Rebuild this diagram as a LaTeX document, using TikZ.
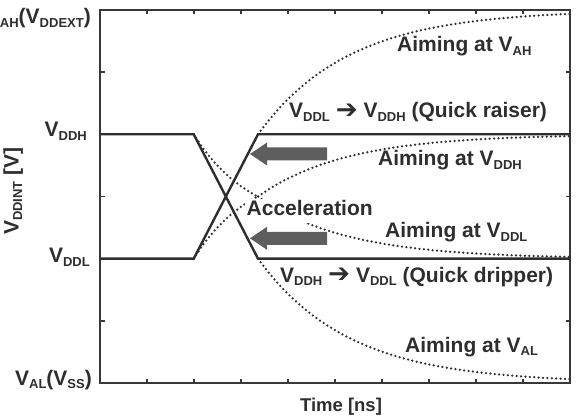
\documentclass[tikz,border=0pt]{standalone}
\usepackage{fontspec}
\setmainfont{Liberation Sans}
\newfontfamily\dejavu{DejaVu Sans}
\definecolor{ink}{HTML}{2E2E2E}
\definecolor{axisink}{HTML}{383838}
\definecolor{arrowgray}{HTML}{5E5E5E}
\newcommand{\Sb}[1]{\raisebox{-3.5pt}{\fontsize{13}{13}\selectfont #1}}
\newcommand{\Ar}{\raisebox{-0.5pt}{\scalebox{1.25}{\dejavu ➔}}}
\begin{document}
\begin{tikzpicture}[x=1pt,y=-1pt,
  axisline/.style={draw=axisink, line width=2.4pt},
  tickmark/.style={draw=axisink, line width=1.6pt},
  trace/.style={draw=ink, line width=2.4pt, line join=miter},
  dotcurve/.style={draw=ink, line width=2.5pt, line cap=round, dash pattern=on 0pt off 4.4pt},
  lab/.style={inner sep=0pt, anchor=base west, text=ink, font=\fontsize{21}{24}\selectfont\bfseries},
  ylab/.style={inner sep=0pt, anchor=base east, text=ink, font=\fontsize{21}{24}\selectfont\bfseries},
  leftarrow/.pic={\fill[arrowgray] (0,0) -- (17,-11.5) -- (17,-6.5) -- (77,-6.5) -- (77,6.5) -- (17,6.5) -- (17,11.5) -- cycle;}
]
\useasboundingbox (0,0) rectangle (580,419);
\clip (0,0) rectangle (580,419);

% key coordinates
\coordinate (hiL) at (100,134.3);
\coordinate (hiK) at (193.7,134.3);
\coordinate (hiR) at (258,134.3);
\coordinate (hiE) at (570,134.3);
\coordinate (loL) at (100,258.7);
\coordinate (loK) at (193.7,258.7);
\coordinate (loR) at (258,258.7);
\coordinate (loE) at (570,258.7);

% dotted curves
\draw[dotcurve] plot[domain=258:570, samples=60, smooth] (\x, {10 + 124.3*exp(-(\x-258)/90)});
\draw[dotcurve] plot[domain=258:570, samples=60, smooth] (\x, {134.3 + 62.2*exp(-(\x-258)/88)});
\draw[dotcurve] plot[domain=258:570, samples=60, smooth] (\x, {258.7 - 62.2*exp(-(\x-258)/88)});
\draw[dotcurve] plot[domain=258:570, samples=60, smooth] (\x, {383 - 124.3*exp(-(\x-258)/90)});
\draw[dotcurve] plot[domain=193.7:258, samples=20, smooth] (\x, {228 - 93.7*exp(-(\x-193.7)/58.5)});
\draw[dotcurve] plot[domain=193.7:258, samples=20, smooth] (\x, {393 - (228 - 93.7*exp(-(\x-193.7)/58.5))});

% axes box and ticks
\draw[axisline] (100,10) rectangle (570,383);
\foreach \i in {1,...,9} {
  \draw[tickmark] (100+47*\i,383) -- ++(0,-4.5);
  \draw[tickmark] (100+47*\i,10) -- ++(0,4.5);
}
\foreach \j in {1,...,5} {
  \draw[tickmark] (100,10+62.17*\j) -- ++(4.5,0);
  \draw[tickmark] (570,10+62.17*\j) -- ++(-4.5,0);
}

% solid traces
\draw[trace] (hiL) -- (hiK) -- (loR) -- (loE);
\draw[trace] (loL) -- (loK) -- (hiR) -- (hiE);

% block arrows
\pic at (250,154) {leftarrow};
\pic at (250,238.3) {leftarrow};

% labels
\node[lab] (tAH) at (397,52) {Aiming at V\Sb{AH}};
\node[lab] (tRaise) at (289,118) {V\Sb{DDL} \Ar{} V\Sb{DDH} (Quick raiser)};
\node[lab] (tDDH) at (378,166) {Aiming at V\Sb{DDH}};
\node[lab, fill=white, inner xsep=1.5pt, inner ysep=2pt, text depth=5pt] (tAcc) at (245,216) {Acceleration};
\node[lab] (tDDL) at (385,238) {Aiming at V\Sb{DDL}};
\node[lab] (tDrip) at (280,282) {V\Sb{DDH} \Ar{} V\Sb{DDL} (Quick dripper)};
\node[lab] (tAL) at (405,352) {Aiming at V\Sb{AL}};

\node[inner sep=0pt, anchor=base, text=ink, font=\fontsize{18.5}{22}\selectfont\bfseries] (tTime) at (341,411.5) {Time [ns]};

\node[ylab] (yAH) at (91,24) {V\Sb{AH}(V\Sb{DDEXT})};
\node[ylab] (yDDH) at (87,137) {V\Sb{DDH}};
\node[ylab] (yDDL) at (90,263) {V\Sb{DDL}};
\node[ylab] (yAL) at (92,385) {V\Sb{AL}(V\Sb{SS})};
\node[lab, rotate=90, font=\fontsize{21}{24}\selectfont\bfseries] (yTitle) at (18.5,235) {V\Sb{DDINT} [V]};
\end{tikzpicture}
\end{document}
